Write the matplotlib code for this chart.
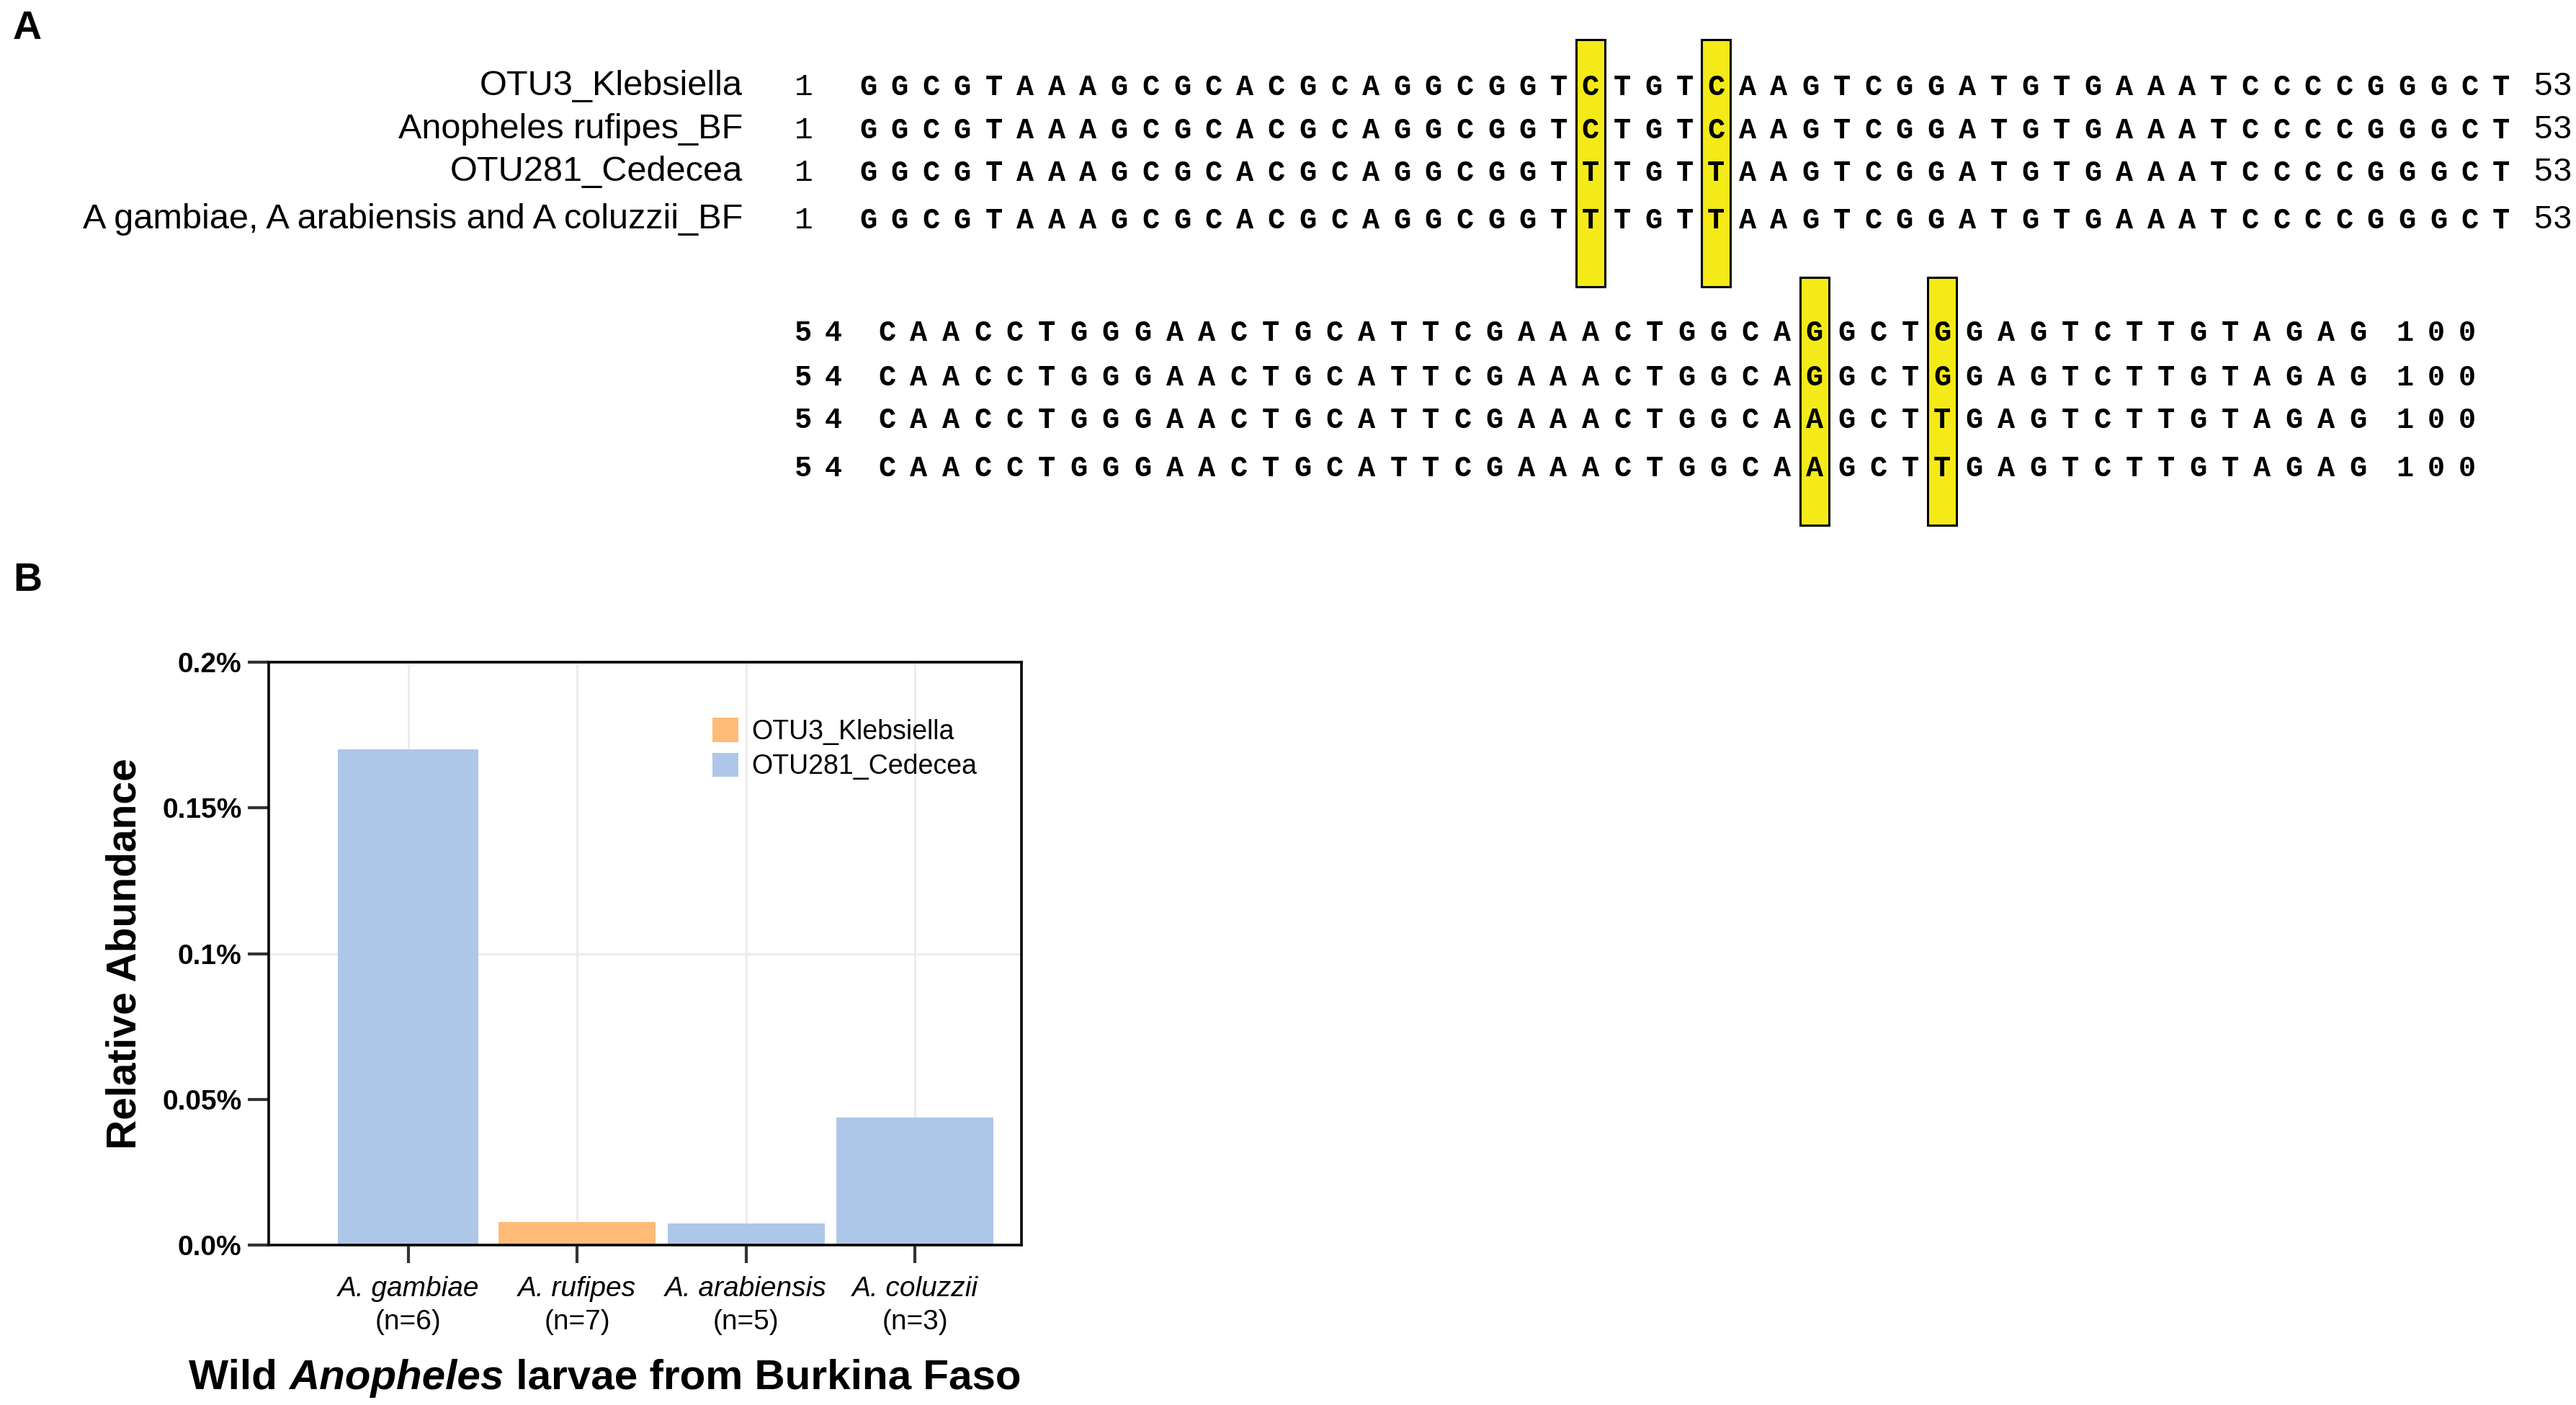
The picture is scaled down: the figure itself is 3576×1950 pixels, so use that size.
import matplotlib
matplotlib.use("Agg")
import matplotlib.pyplot as plt
from matplotlib.patches import Rectangle
from matplotlib.ticker import FixedLocator, FixedFormatter

plt.rcParams['font.family'] = ['Liberation Sans', 'DejaVu Sans']

# ---- data: panel A alignment ----
seq_names = ["OTU3_Klebsiella", "Anopheles rufipes_BF", "OTU281_Cedecea",
             "A gambiae, A arabiensis and A coluzzii_BF"]
block1 = ["GGCGTAAAGCGCACGCAGGCGGTCTGTCAAGTCGGATGTGAAATCCCCGGGCT",
          "GGCGTAAAGCGCACGCAGGCGGTCTGTCAAGTCGGATGTGAAATCCCCGGGCT",
          "GGCGTAAAGCGCACGCAGGCGGTTTGTTAAGTCGGATGTGAAATCCCCGGGCT",
          "GGCGTAAAGCGCACGCAGGCGGTTTGTTAAGTCGGATGTGAAATCCCCGGGCT"]
block2 = ["CAACCTGGGAACTGCATTCGAAACTGGCAGGCTGGAGTCTTGTAGAG",
          "CAACCTGGGAACTGCATTCGAAACTGGCAGGCTGGAGTCTTGTAGAG",
          "CAACCTGGGAACTGCATTCGAAACTGGCAAGCTTGAGTCTTGTAGAG",
          "CAACCTGGGAACTGCATTCGAAACTGGCAAGCTTGAGTCTTGTAGAG"]
block1_range = ("1", "53")
block2_range = ("54", "100")

# ---- data: panel B bars ----
species = ["A. gambiae", "A. rufipes", "A. arabiensis", "A. coluzzii"]
n_larvae = [6, 7, 5, 3]
otu = ["OTU281_Cedecea", "OTU3_Klebsiella", "OTU281_Cedecea", "OTU281_Cedecea"]
abundance = [0.170, 0.0079, 0.0073, 0.0438]   # percent
bar_width = [0.83, 0.93, 0.93, 0.93]
otu_order = ["OTU3_Klebsiella", "OTU281_Cedecea"]
otu_colors = {"OTU3_Klebsiella": "#FFBB78", "OTU281_Cedecea": "#AEC7E8"}

W, H = 3576, 1950
fig = plt.figure(figsize=(W / 100, H / 100), dpi=100)

# overlay axes in pixel units for the alignment panel
ov = fig.add_axes([0, 0, 1, 1])
ov.set_xlim(0, W)
ov.set_ylim(H, 0)
ov.axis("off")
ov.patch.set_alpha(0)

mono = ['Liberation Mono', 'DejaVu Sans Mono']
yellow = "#F4EA17"


def draw_block(seqs, x0, pitch, baselines, box_y, rng, spaced_nums):
    ncol = len(seqs[0])
    # variable sites get a yellow box
    for c in range(ncol):
        if len(set(s[c] for s in seqs)) > 1:
            xc = x0 + c * pitch
            ov.add_patch(Rectangle((xc - 20, box_y[0]), 40, box_y[1] - box_y[0],
                                   facecolor=yellow, edgecolor="black",
                                   linewidth=2.2, zorder=1))
    for s, yb in zip(seqs, baselines):
        for c, ch in enumerate(s):
            ov.text(x0 + c * pitch, yb, ch, family=mono, weight="bold",
                    fontsize=29, ha="center", va="baseline", zorder=3)
        start, end = rng
        if spaced_nums:
            for k, ch in enumerate(start):
                ov.text(1115 + k * 42, yb, ch, family=mono, weight="bold",
                        fontsize=29, ha="center", va="baseline")
            for k, ch in enumerate(end):
                ov.text(x0 + (ncol - 1) * pitch + 65 + k * 43, yb, ch, family=mono,
                        weight="bold", fontsize=29, ha="center", va="baseline")
        else:
            ov.text(1116, yb, start, family=mono, fontsize=31,
                    ha="center", va="baseline")
            ov.text(x0 + (ncol - 1) * pitch + 44, yb, end, family=mono,
                    fontsize=33, ha="left", va="baseline")


base1 = [132, 192, 251, 317]
base2 = [473, 535, 594, 661]
for name, yb in zip(seq_names, base1):
    ov.text(1031, yb, name, fontsize=35, ha="right", va="baseline")
draw_block(block1, 1205, 43.6, base1, (55, 398), block1_range, False)
draw_block(block2, 1231, 44.4, base2, (385, 729), block2_range, True)

ov.text(18, 14, "A", fontsize=40, weight="bold", ha="left", va="top")
ov.text(18, 780, "B", fontsize=40, weight="bold", ha="left", va="top")

# ---- panel B ----
ax = fig.add_axes([373 / W, 1 - 1728 / H, (1418 - 373) / W, (1728 - 919) / H])
x = list(range(len(species)))
for o in otu_order:
    idx = [i for i in x if otu[i] == o]
    ax.bar([x[i] for i in idx], [abundance[i] for i in idx],
           width=[bar_width[i] for i in idx], color=otu_colors[o],
           label=o, zorder=2)

ax.set_xlim(-0.826, 3.63)
ax.set_ylim(0, 0.2)
ax.yaxis.set_major_locator(FixedLocator([0.0, 0.1, 0.2]))
ax.yaxis.set_major_formatter(FixedFormatter(["0.0%", "0.1%", "0.2%"]))
ax.yaxis.set_minor_locator(FixedLocator([0.05, 0.15]))
ax.yaxis.set_minor_formatter(FixedFormatter(["0.05%", "0.15%"]))
ax.set_xticks(x)
ax.set_xticklabels([])
ax.grid(True, which="major", color="#EBEBEB", linewidth=2, zorder=0)
ax.set_axisbelow(True)
for sp in ax.spines.values():
    sp.set_linewidth(2.6)
    sp.set_color("black")
ax.tick_params(axis="y", which="both", length=21, width=3, color="#333333",
               pad=6, labelsize=28)
ax.tick_params(axis="x", length=18, width=3, color="#333333")
for lab in ax.get_yticklabels(which="both"):
    lab.set_fontweight("bold")

for i in x:
    ax.annotate(species[i], xy=(x[i], 0), xycoords=("data", "axes fraction"),
                xytext=(0, -44), textcoords="offset points", ha="center",
                va="center", fontsize=28, style="italic")
    ax.annotate("(n=%d)" % n_larvae[i], xy=(x[i], 0),
                xycoords=("data", "axes fraction"), xytext=(0, -77),
                textcoords="offset points", ha="center", va="center", fontsize=28)

ax.set_ylabel("Relative Abundance", fontsize=41, weight="bold", labelpad=18)

# x label with italic genus name, pieces chained on the baseline
t1 = fig.text(262 / W, 1 - 1940 / H, "Wild ", fontsize=42, weight="bold",
              ha="left", va="bottom")
t2 = ax.annotate("Anopheles", xy=(1, 0), xycoords=t1, fontsize=42,
                 weight="bold", style="italic", ha="left", va="bottom")
t3 = ax.annotate(" larvae from Burkina Faso", xy=(1, 0), xycoords=t2,
                 fontsize=42, weight="bold", ha="left", va="bottom")

ax.legend(loc="upper left", bbox_to_anchor=(989 / W, 1 - 996 / H),
          bbox_transform=fig.transFigure, frameon=False, fontsize=27,
          handlelength=0.95, handleheight=1.0, handletextpad=0.5,
          labelspacing=0.3, borderpad=0, borderaxespad=0)

fig.savefig("out.png", dpi=100)
